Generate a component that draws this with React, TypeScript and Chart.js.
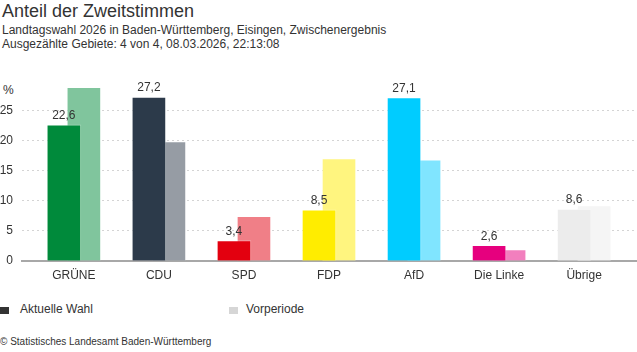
import React, { useEffect, useRef } from 'react';
import { Chart, registerables } from 'chart.js';

Chart.register(...registerables);

const categories = ['GRÜNE', 'CDU', 'SPD', 'FDP', 'AfD', 'Die Linke', 'Übrige'];
const currentValues = [22.6, 27.2, 3.4, 8.5, 27.1, 2.6, 8.6];
const previousValues = [28.8, 19.8, 7.4, 17.0, 16.8, 1.9, 9.2];
const currentColors = ['#008a3b', '#2c3a4a', '#e3000f', '#ffed00', '#00ccff', '#e6007e', '#ececec'];
const previousColors = ['#80c59d', '#969ca4', '#f07f87', '#fff57f', '#80e5ff', '#f27fbe', '#f5f5f5'];
const yTickValues = [0, 5, 10, 15, 20, 25];
const yMax = 30;

const FONT = "'Liberation Sans', Arial, sans-serif";
const TEXT = '#333333';
const PAD = 0.61;
const SHIFT = 10 / 85;

const valueLabels = {
  id: 'valueLabels',
  afterDatasetsDraw(chart: any) {
    const ctx = chart.ctx;
    const meta = chart.getDatasetMeta(0);
    ctx.save();
    ctx.font = `12px ${FONT}`;
    ctx.fillStyle = TEXT;
    ctx.textAlign = 'center';
    ctx.textBaseline = 'bottom';
    meta.data.forEach((el: any, i: number) => {
      const v = currentValues[i];
      ctx.fillText(v.toFixed(1).replace('.', ','), el.x, el.y - 3);
    });
    ctx.restore();
  },
};

export default function App() {
  const ref = useRef<HTMLCanvasElement | null>(null);

  useEffect(() => {
    document.body.style.margin = '0';
    const canvas = ref.current;
    if (!canvas) return;
    const chart = new Chart(canvas, {
      type: 'bar',
      data: {
        datasets: [
          {
            label: 'Aktuelle Wahl',
            data: currentValues.map((v, i) => ({ x: i - SHIFT, y: v })),
            backgroundColor: currentColors,
            borderColor: 'rgba(255,255,255,0.3)',
            borderWidth: 1,
            barThickness: 34,
            grouped: false,
          } as any,
          {
            label: 'Vorperiode',
            data: previousValues.map((v, i) => ({ x: i + SHIFT, y: v })),
            backgroundColor: previousColors,
            borderColor: 'rgba(255,255,255,0.3)',
            borderWidth: 1,
            barThickness: 34,
            grouped: false,
          } as any,
        ],
      },
      options: {
        animation: false,
        responsive: false,
        maintainAspectRatio: false,
        layout: { padding: { top: 0, right: 1, left: 0, bottom: 0 } },
        plugins: {
          legend: { display: false },
          tooltip: { enabled: false },
          title: { display: false },
        },
        scales: {
          x: {
            type: 'linear',
            offset: false,
            min: -PAD,
            max: categories.length - 1 + PAD,
            afterBuildTicks: (axis: any) => {
              axis.ticks = categories.map((_, i) => ({ value: i }));
            },
            afterFit: (axis: any) => {
              axis.height = 29;
            },
            grid: { display: false, drawTicks: false, offset: false },
            border: { display: true, color: '#a8a8a8', width: 2 },
            ticks: {
              autoSkip: false,
              maxRotation: 0,
              padding: 7,
              color: TEXT,
              font: { family: FONT, size: 12 },
              callback: (v: any) => categories[Math.round(Number(v))] ?? '',
            },
          },
          y: {
            type: 'linear',
            min: 0,
            max: yMax,
            afterBuildTicks: (axis: any) => {
              axis.ticks = yTickValues.map((v) => ({ value: v }));
            },
            afterFit: (axis: any) => {
              axis.width = 22;
            },
            grid: {
              drawTicks: false,
              color: (c: any) => (c.tick && c.tick.value === 0 ? 'rgba(0,0,0,0)' : '#d4d4d4'),
              lineWidth: 1,
            },
            border: { display: false, dash: [2, 3] },
            ticks: {
              padding: 9,
              color: TEXT,
              font: { family: FONT, size: 12 },
            },
          },
        },
      } as any,
      plugins: [valueLabels],
    });
    return () => chart.destroy();
  }, []);

  const abs = (extra: React.CSSProperties): React.CSSProperties => ({
    position: 'absolute',
    whiteSpace: 'nowrap',
    color: TEXT,
    fontFamily: FONT,
    ...extra,
  });

  return (
    <div style={{ position: 'relative', width: 637, height: 352, background: '#fff', overflow: 'hidden' }}>
      <div style={abs({ left: 2, top: 2, fontSize: 18, lineHeight: '18px' })}>Anteil der Zweitstimmen</div>
      <div style={abs({ left: 2, top: 24, fontSize: 12, lineHeight: '12px' })}>
        Landtagswahl 2026 in Baden-Württemberg, Eisingen, Zwischenergebnis
      </div>
      <div style={abs({ left: 2, top: 37.5, fontSize: 12, lineHeight: '12px' })}>
        Ausgezählte Gebiete: 4 von 4, 08.03.2026, 22:13:08
      </div>
      <div style={abs({ left: 3, top: 83.5, fontSize: 12, lineHeight: '12px' })}>%</div>
      <canvas ref={ref} width={637} height={226} style={{ position: 'absolute', left: 0, top: 64, width: 637, height: 226 }} />
      <div style={abs({ left: 0, top: 307, width: 9, height: 7, background: '#333333' })} />
      <div style={abs({ left: 20, top: 303, fontSize: 12, lineHeight: '12px' })}>Aktuelle Wahl</div>
      <div style={abs({ left: 229, top: 307, width: 9, height: 7, background: '#d6d6d6' })} />
      <div style={abs({ left: 246, top: 303, fontSize: 12, lineHeight: '12px' })}>Vorperiode</div>
      <div style={abs({ left: 0, top: 337, fontSize: 10, lineHeight: '10px' })}>
        © Statistisches Landesamt Baden-Württemberg
      </div>
    </div>
  );
}
